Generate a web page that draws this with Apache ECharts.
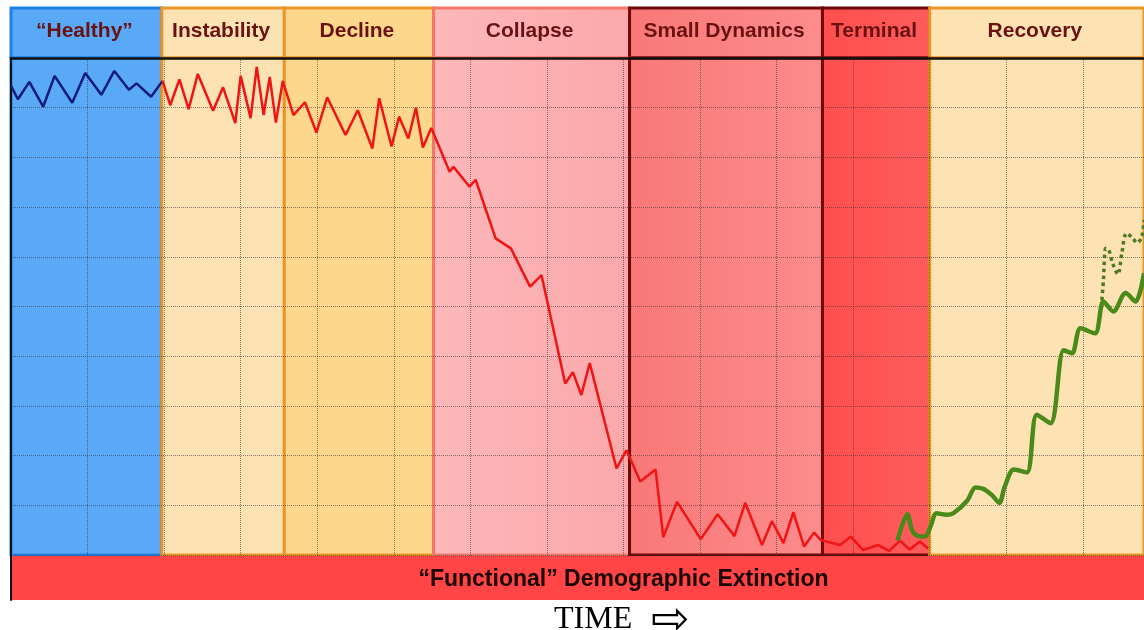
<!DOCTYPE html>
<html>
<head>
<meta charset="utf-8">
<script src="https://cdn.jsdelivr.net/npm/echarts@6/dist/echarts.min.js"></script>
<style>
  html, body { margin: 0; padding: 0; background: #fff; }
  #main { width: 1144px; height: 630px; }
</style>
</head>
<body>
<div id="main"></div>
<script>
// phases along the time axis
var phaseNames = ['“Healthy”', 'Instability', 'Decline', 'Collapse', 'Small Dynamics', 'Terminal', 'Recovery'];
var phaseStart = [0, 1.97, 3.57, 5.52, 8.08, 10.6, 12.0];
var phaseEnd = [1.97, 3.57, 5.52, 8.08, 10.6, 12.0, 14.86];
var bandLabel = '“Functional” Demographic Extinction';
var timeLabel = 'TIME';

// population trajectories [time, level]
var healthyLine = [[0.00, 9.44], [0.09, 9.17], [0.24, 9.52], [0.42, 9.02], [0.57, 9.64], [0.80, 9.10], [0.97, 9.70],
  [1.18, 9.26], [1.35, 9.74], [1.54, 9.36], [1.64, 9.49], [1.83, 9.22], [1.98, 9.54]];
var declineLine = [[1.98, 9.54], [2.08, 9.05], [2.20, 9.57], [2.32, 8.97], [2.44, 9.68], [2.64, 8.94], [2.77, 9.41],
  [2.93, 8.69], [3.00, 9.64], [3.13, 8.79], [3.21, 9.82], [3.30, 8.85], [3.38, 9.62], [3.46, 8.70], [3.55, 9.54],
  [3.69, 8.85], [3.84, 9.11], [3.99, 8.50], [4.13, 9.21], [4.37, 8.45], [4.53, 8.95], [4.72, 8.18], [4.81, 9.19],
  [4.97, 8.22], [5.07, 8.82], [5.19, 8.38], [5.29, 9.00], [5.38, 8.20], [5.49, 8.59], [5.73, 7.71], [5.78, 7.81],
  [5.99, 7.41], [6.07, 7.55], [6.33, 6.37], [6.53, 6.17], [6.78, 5.40], [6.93, 5.63], [7.24, 3.45], [7.34, 3.68],
  [7.45, 3.22], [7.56, 3.86], [7.91, 1.74], [8.04, 2.11], [8.22, 1.48], [8.42, 1.72], [8.52, 0.36], [8.70, 1.07],
  [9.01, 0.32], [9.23, 0.82], [9.45, 0.38], [9.59, 1.05], [9.81, 0.20], [9.94, 0.68], [10.09, 0.24], [10.22, 0.86],
  [10.36, 0.17], [10.49, 0.45], [10.58, 0.30], [10.83, 0.20], [10.97, 0.37], [11.13, 0.10], [11.33, 0.20],
  [11.47, 0.08], [11.61, 0.29], [11.74, 0.11], [11.87, 0.27], [11.98, 0.13]];
var recoveryLine = [[11.58, 0.29], [11.71, 0.82], [11.77, 0.50], [11.85, 0.38], [11.94, 0.37], [12.01, 0.57],
  [12.09, 0.84], [12.22, 0.81], [12.31, 0.84], [12.49, 1.09], [12.60, 1.36], [12.70, 1.33], [12.81, 1.21],
  [12.91, 1.05], [12.98, 1.37], [13.10, 1.72], [13.27, 1.66], [13.40, 2.82], [13.58, 2.65], [13.75, 4.12],
  [13.86, 4.06], [13.97, 4.56], [14.16, 4.46], [14.27, 5.10], [14.40, 4.90], [14.56, 5.27], [14.69, 5.10], [14.80, 5.67]];
var recoveryAlt = [[14.25, 5.13], [14.27, 5.53], [14.30, 6.17], [14.34, 6.14], [14.39, 5.87], [14.46, 5.65],
  [14.51, 6.07], [14.57, 6.47], [14.64, 6.40], [14.71, 6.28], [14.77, 6.40], [14.80, 6.74]];

function grad(a, b) {
  return { type: 'linear', x: 0, y: 0, x2: 1, y2: 0, colorStops: [{ offset: 0, color: a }, { offset: 1, color: b }] };
}
var fills = ['#5aa9f7', '#fde3b3', '#fdd78b', grad('#fcb8ba', '#fba8aa'), grad('#f97878', '#fc8c8c'), grad('#ff4e4e', '#ff5c5c'), '#fde3b3'];
var borders = ['#1f80e8', '#ea9526', '#ea9526', '#f2786a', '#6e0808', '#6e0808', '#ea9526'];

function phaseAreas(y0, y1, withLabel) {
  return phaseNames.map(function (name, i) {
    return [{
      name: withLabel ? name : '',
      xAxis: phaseStart[i], yAxis: y0,
      itemStyle: { color: fills[i], borderColor: borders[i], borderWidth: 3 }
    }, { xAxis: phaseEnd[i], yAxis: y1 }];
  });
}

var gridLine = { show: true, lineStyle: { type: 'dotted', color: 'rgba(60,50,50,0.6)', width: 1 } };
var hiddenAxis = { type: 'value', show: false };

var myChart = echarts.init(document.getElementById('main'), null, { renderer: 'canvas' });
var option = {
  animation: false,
  title: [{
    text: timeLabel, left: 549, top: 599,
    textStyle: { fontFamily: 'Liberation Serif', fontSize: 32, fontWeight: 'normal', color: '#000' }
  }, {
    text: '⇨', left: 646, top: 594,
    textStyle: { fontFamily: 'DejaVu Sans', fontSize: 46, fontWeight: 'normal', color: '#000' }
  }],
  grid: [
    { left: 11, right: 0, top: 8, height: 50 },
    { left: 11, right: 0, top: 58, height: 497 },
    { left: 11, right: 0, top: 556, height: 44 }
  ],
  xAxis: [
    Object.assign({ gridIndex: 0, min: 0, max: 14.8 }, hiddenAxis),
    {
      gridIndex: 1, type: 'value', min: 0, max: 14.8, interval: 1, position: 'top', z: 3,
      axisLine: { show: true, onZero: false, lineStyle: { color: '#111', width: 2.5 } },
      axisTick: { show: false }, axisLabel: { show: false }, splitLine: gridLine
    },
    Object.assign({ gridIndex: 2, min: 0, max: 14.8 }, hiddenAxis)
  ],
  yAxis: [
    Object.assign({ gridIndex: 0, min: 0, max: 1 }, hiddenAxis),
    {
      gridIndex: 1, type: 'value', min: 0, max: 10, interval: 1, z: 3,
      axisLine: { show: true, onZero: false, lineStyle: { color: '#111', width: 2 } },
      axisTick: { show: false }, axisLabel: { show: false }, splitLine: gridLine
    },
    {
      gridIndex: 2, type: 'value', min: 0, max: 1, z: 3,
      axisLine: { show: true, onZero: false, lineStyle: { color: '#111', width: 2 } },
      axisTick: { show: false }, axisLabel: { show: false }, splitLine: { show: false }
    }
  ],
  series: [
    {
      // phase header boxes
      type: 'line', xAxisIndex: 0, yAxisIndex: 0, data: [], z: 1, clip: false,
      markArea: {
        silent: true,
        label: {
          show: true, position: 'inside', formatter: '{b}', offset: [-2, -2],
          color: '#6a1212', fontFamily: 'Liberation Sans', fontWeight: 'bold', fontSize: 21
        },
        data: phaseAreas(0, 1, true)
      }
    },
    {
      // phase columns
      type: 'line', xAxisIndex: 1, yAxisIndex: 1, data: [], z: 1, clip: false,
      markArea: { silent: true, label: { show: false }, data: phaseAreas(0, 10, false) }
    },
    {
      // extinction band
      type: 'line', xAxisIndex: 2, yAxisIndex: 2, data: [], z: 1, clip: false,
      markArea: {
        silent: true,
        label: {
          show: true, position: 'inside', formatter: '{b}', offset: [46, 2],
          color: '#1a0404', fontFamily: 'Liberation Sans', fontWeight: 'bold', fontSize: 23
        },
        data: [[{ name: bandLabel, xAxis: 0, yAxis: 0, itemStyle: { color: '#ff4545' } }, { xAxis: 14.8, yAxis: 1 }]]
      }
    },
    {
      name: 'healthy', type: 'line', xAxisIndex: 1, yAxisIndex: 1, z: 5, showSymbol: false, symbol: 'none',
      lineStyle: { color: '#101c78', width: 2.5 }, data: healthyLine
    },
    {
      name: 'decline', type: 'line', xAxisIndex: 1, yAxisIndex: 1, z: 5, showSymbol: false, symbol: 'none',
      lineStyle: { color: '#f01414', width: 2.5 }, data: declineLine
    },
    {
      name: 'recovery', type: 'line', xAxisIndex: 1, yAxisIndex: 1, z: 6, showSymbol: false, symbol: 'none',
      smooth: 0.3, lineStyle: { color: '#4a8a1a', width: 4.5 }, data: recoveryLine
    },
    {
      name: 'recovery alt', type: 'line', xAxisIndex: 1, yAxisIndex: 1, z: 6, showSymbol: false, symbol: 'none',
      smooth: 0.3, lineStyle: { color: '#4f7a22', width: 3.5, type: 'dotted' }, data: recoveryAlt
    }
  ]
};
myChart.setOption(option);
</script>
</body>
</html>
